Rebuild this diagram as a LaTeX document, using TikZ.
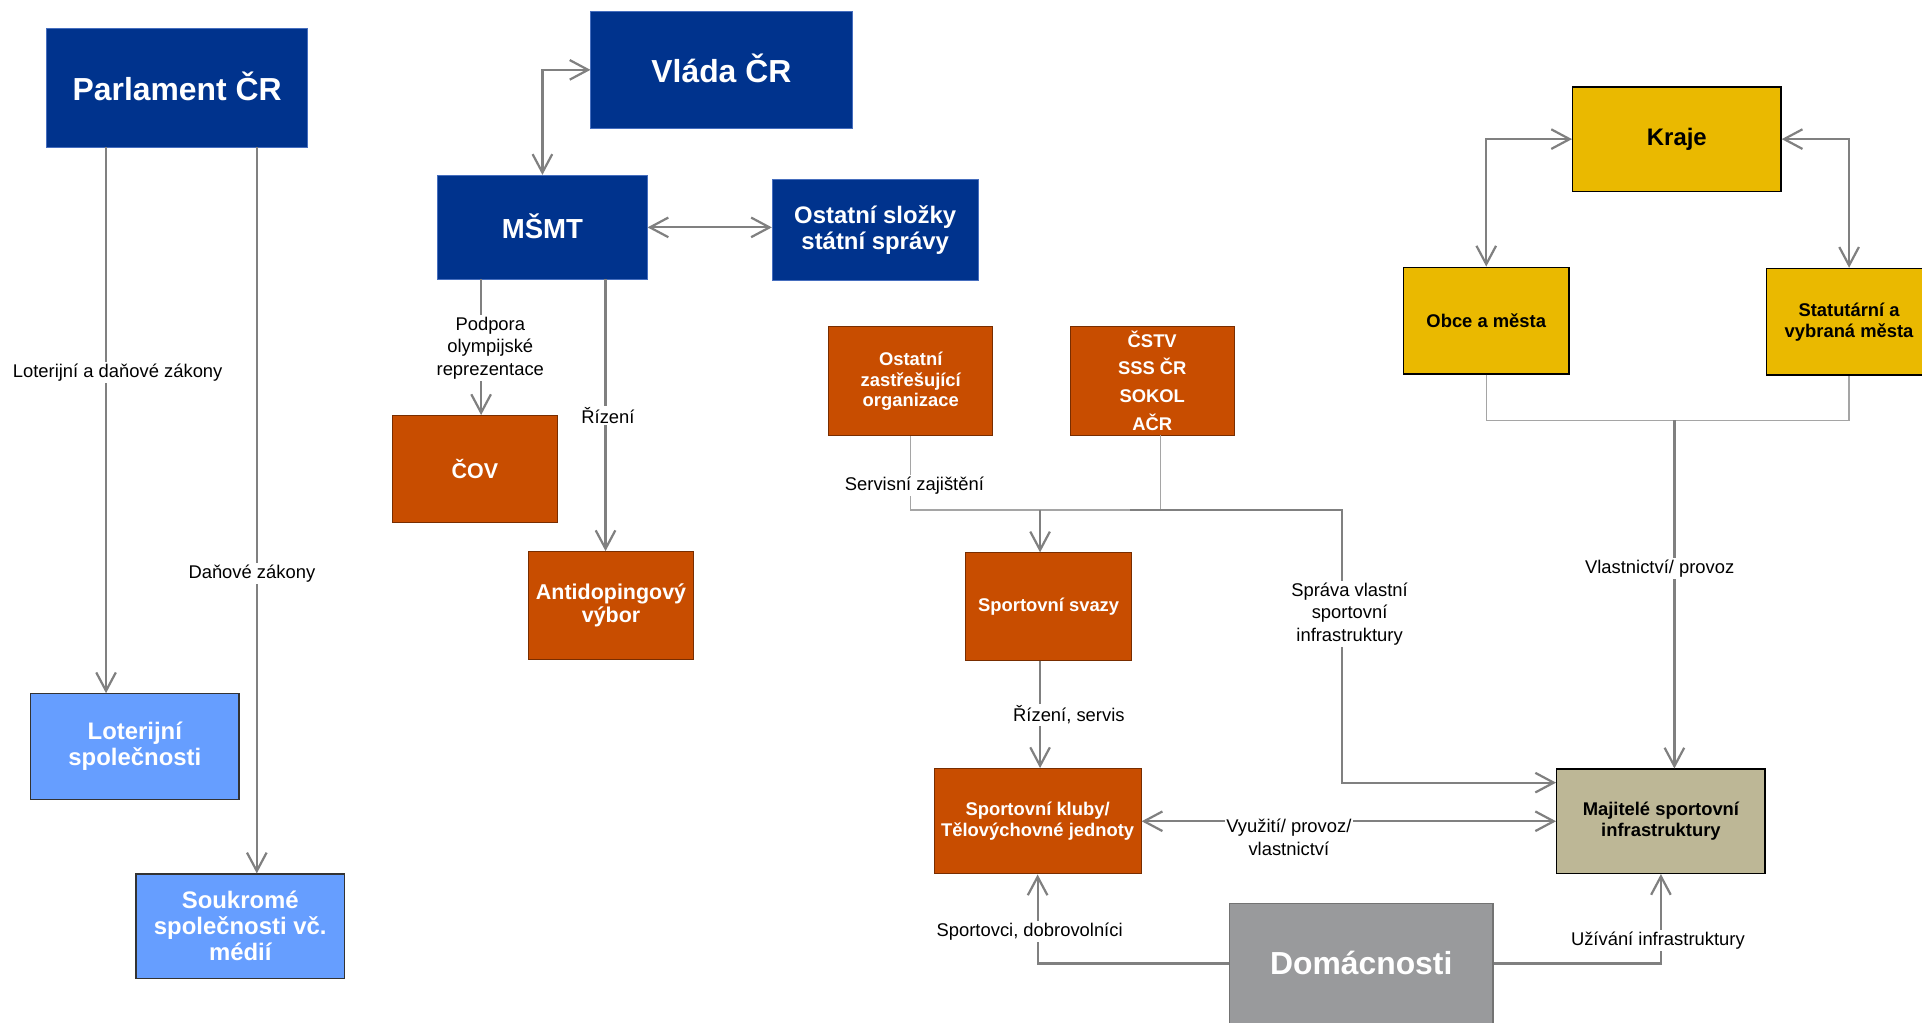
\documentclass[tikz,border=0pt]{standalone}
\usepackage{fontspec}
\setmainfont{Liberation Sans}
\usetikzlibrary{arrows.meta}
\definecolor{dblue}{RGB}{0,51,141}
\definecolor{dblueedge}{RGB}{70,110,190}
\definecolor{lblue}{RGB}{102,158,255}
\definecolor{orng}{RGB}{200,77,0}
\definecolor{orngedge}{RGB}{120,45,0}
\definecolor{ylw}{RGB}{234,185,0}
\definecolor{khaki}{RGB}{189,183,150}
\definecolor{dgray}{RGB}{153,154,156}
\definecolor{lgray}{RGB}{128,128,128}
\definecolor{tgray}{RGB}{165,165,165}
\newcommand{\fsz}[2]{\fontsize{#1}{#2}\selectfont}
\newcommand{\rb}[2]{\raisebox{#1}{#2}}
\begin{document}
\begin{tikzpicture}[x=1pt,y=-1pt,
  box/.style={rectangle, inner sep=0pt, align=center},
  bluebox/.style={box, fill=dblue, draw=dblueedge, line width=0.6pt, text=white},
  lbbox/.style={box, fill=lblue, draw=black!80, line width=1pt, text=white},
  orbox/.style={box, fill=orng, draw=orngedge, line width=0.8pt, text=white},
  ybox/.style={box, fill=ylw, draw=black, line width=1.1pt, text=black},
  khbox/.style={box, fill=khaki, draw=black, line width=1.1pt, text=black},
  graybox/.style={box, fill=dgray, draw=black!55, line width=1.2pt, text=white},
  tip/.tip={Straight Barb[length=15pt,width=16pt]},
  conn/.style={draw=lgray, line width=1.8pt},
  arr/.style={conn, -tip},
  biarr/.style={conn, tip-tip},
  thinline/.style={draw=tgray, line width=1pt},
  lbl/.style={fill=white, inner sep=1.5pt, align=center, font=\fsz{15}{18.5}},
]
\fill[white] (0,0) rectangle (1568,834);
\useasboundingbox (0,0) rectangle (1568,834);

% boxes
\node[bluebox, minimum width=213pt, minimum height=97pt, font=\bfseries\fsz{26}{30}] (parl) at (144.5,71.5) {\rb{2.5pt}{Parlament ČR}};
\node[bluebox, minimum width=213pt, minimum height=96pt, font=\bfseries\fsz{26}{30}] (vlada) at (588.5,57) {\rb{2pt}{Vláda ČR}};
\node[bluebox, minimum width=171pt, minimum height=85pt, font=\bfseries\fsz{22.5}{26}] (msmt) at (442.5,185.5) {\rb{2pt}{MŠMT}};
\node[bluebox, minimum width=168pt, minimum height=83pt, font=\bfseries\fsz{19.5}{21.5}] (ostss) at (714,187.5) {Ostatní složky\\státní správy};
\node[orbox, minimum width=135pt, minimum height=87pt, font=\bfseries\fsz{17.5}{20}] (cov) at (387.5,382.5) {ČOV};
\node[orbox, minimum width=135pt, minimum height=88pt, font=\bfseries\fsz{17.5}{18.5}] (anti) at (498.5,494) {Antidopingový\\výbor};
\node[lbbox, minimum width=170pt, minimum height=86pt, font=\bfseries\fsz{19.5}{21}] (lot) at (110,609) {Loterijní\\společnosti};
\node[lbbox, minimum width=170pt, minimum height=85pt, font=\bfseries\fsz{19.5}{21}] (souk) at (196,755.5) {Soukromé\\společnosti vč.\\médií};
\node[orbox, minimum width=134pt, minimum height=89pt, font=\bfseries\fsz{15}{16.5}] (ozo) at (743,311) {Ostatní\\zastřešující\\organizace};
\node[orbox, minimum width=134pt, minimum height=89pt, font=\bfseries\fsz{15}{22.7}] (cstv) at (940,310.5) {ČSTV\\SSS ČR\\SOKOL\\AČR};
\node[orbox, minimum width=135pt, minimum height=88pt, font=\bfseries\fsz{15}{17}] (svazy) at (855.5,495) {\rb{-1.5pt}{Sportovní svazy}};
\node[orbox, minimum width=169pt, minimum height=86pt, font=\bfseries\fsz{15}{17}] (kluby) at (846.5,670) {Sportovní kluby/\\Tělovýchovné jednoty};
\node[graybox, minimum width=215pt, minimum height=98pt, font=\bfseries\fsz{26}{30}] (dom) at (1110.5,786) {Domácnosti};
\node[khbox, minimum width=170pt, minimum height=85pt, font=\bfseries\fsz{15}{17}] (maj) at (1355,670) {Majitelé sportovní\\infrastruktury};
\node[ybox, minimum width=170pt, minimum height=85pt, font=\bfseries\fsz{19.5}{22}] (kraje) at (1368,113.5) {\rb{-2pt}{Kraje}};
\node[ybox, minimum width=135pt, minimum height=87pt, font=\bfseries\fsz{15}{17}] (obce) at (1212.5,261.5) {Obce a města};
\node[ybox, minimum width=135pt, minimum height=87pt, font=\bfseries\fsz{15}{17}] (stat) at (1508.5,262.5) {Statutární a\\vybraná města};

% coordinates
\coordinate (pl) at (86.5,120);
\coordinate (pr) at (209.5,120);
\coordinate (m1) at (392.5,228);
\coordinate (m2) at (494,228);
\coordinate (j1) at (922,416);
\coordinate (c1) at (947,355);
\coordinate (s1) at (848.5,416);
\coordinate (r2) at (1095,638.5);
\coordinate (v1) at (848.5,539);
\coordinate (b1) at (1366,343);

% connectors
\draw[arr] (pl) -- (pl |- lot.north);
\draw[arr] (pr) -- (pr |- souk.north);
\draw[biarr] (msmt.north) |- (vlada.west);
\draw[biarr] (msmt.east) -- (msmt.east -| ostss.west);
\draw[arr] (m1) -- (m1 |- cov.north);
\draw[arr] (m2) -- (m2 |- anti.north);
\draw[thinline] (ozo.south) |- (j1);
\draw[thinline] (c1) -- (c1 |- j1);
\draw[arr] (j1) -| (r2) -- (r2 -| maj.west);
\draw[arr] (s1) -- (s1 |- svazy.north);
\draw[arr] (v1) -- (v1 |- kluby.north);
\draw[biarr] (kluby.east) -- (maj.west);
\draw[arr] (dom.west) -| (kluby.south);
\draw[arr] (dom.east) -| (maj.south);
\draw[biarr] (kraje.west) -| (obce.north);
\draw[biarr] (kraje.east) -| (stat.north);
\draw[thinline] (obce.south) |- (b1) -| (stat.south);
\draw[arr] (b1) -- (b1 |- maj.north);

% labels
\node[lbl] (l1) at (96,304) {Loterijní a daňové zákony};
\node[lbl] (l2) at (205.5,468) {Daňové zákony};
\node[lbl] (l3) at (400,284) {Podpora\\olympijské\\reprezentace};
\node[lbl] (l4) at (496,339) {Řízení};
\node[lbl] (l5) at (746,396) {Servisní zajištění};
\node[lbl] (l6) at (1101,501) {Správa vlastní\\sportovní\\infrastruktury};
\node[lbl] (l7) at (1354,464) {Vlastnictví/ provoz};
\node[lbl] (l8) at (872,583) {Řízení, servis};
\node[lbl] (l9) at (1051.5,683) {Využití/ provoz/\\vlastnictví};
\node[lbl] (l10) at (840,760) {Sportovci, dobrovolníci};
\node[lbl] (l11) at (1352.5,767) {Užívání infrastruktury};
\end{tikzpicture}
\end{document}
